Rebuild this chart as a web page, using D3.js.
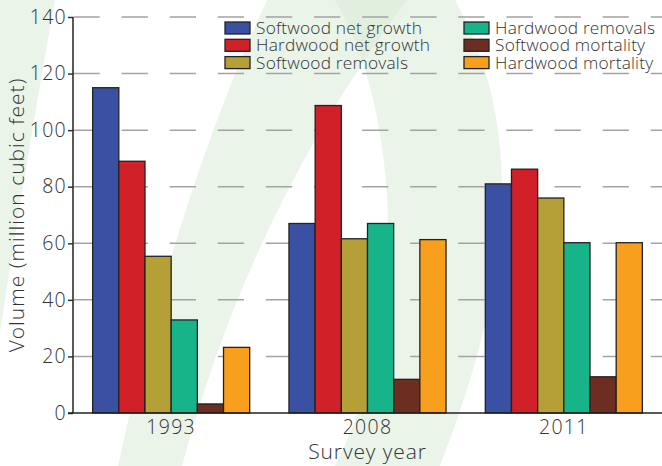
<!DOCTYPE html>
<html>
<head>
<meta charset="utf-8">
<script src="https://cdn.jsdelivr.net/npm/d3@7"></script>
<style>
  body { margin: 0; background: #fff; }
  svg text { font-family: "Open Sans", sans-serif; font-weight: 300; fill: #333; }
</style>
</head>
<body>
<div class="chart"></div>
<script>
// survey years on the x axis
var years = ['1993', '2008', '2011'];

// one array per series, values in million cubic feet
var seriesNames = ['Softwood net growth', 'Hardwood net growth', 'Softwood removals',
                   'Hardwood removals', 'Softwood mortality', 'Hardwood mortality'];
var softwoodNetGrowth = [115, 67, 81];
var hardwoodNetGrowth = [89, 108.7, 86.2];
var softwoodRemovals  = [55.4, 61.6, 76];
var hardwoodRemovals  = [32.9, 67, 60.2];
var softwoodMortality = [3.2, 11.9, 12.8];
var hardwoodMortality = [23.2, 61.3, 60.2];
var yTicks = [0, 20, 40, 60, 80, 100, 120, 140];

var colors = ['#3a51a3', '#d02128', '#b5a038', '#16b488', '#6b2e21', '#f8a01d'];

var seriesValues = [softwoodNetGrowth, hardwoodNetGrowth, softwoodRemovals,
                    hardwoodRemovals, softwoodMortality, hardwoodMortality];

var W = 662, H = 466;
var margin = { top: 17, right: 0, bottom: 53, left: 73 };

var svg = d3.select('.chart').append('svg')
  .attr('width', W)
  .attr('height', H);

// faint green leaf watermark behind everything
var wm = svg.append('g').attr('class', 'watermark');
wm.append('path')
  .attr('d', 'M0,0 L55,0 Q28,150 0,332 Z')
  .attr('fill', '#d5e9d3').attr('fill-opacity', 0.5);
wm.append('path')
  .attr('d', 'M267,0 Q175,200 118,466 L182,466 Q250,210 407,0 Z')
  .attr('fill', '#d5e9d3').attr('fill-opacity', 0.5);
wm.append('path')
  .attr('d', 'M335,0 C390,90 420,300 335,466 L440,466 C520,260 520,120 455,0 Z')
  .attr('fill', '#d5e9d3').attr('fill-opacity', 0.5);

var width = W - margin.left - margin.right;
var height = H - margin.top - margin.bottom;

var g = svg.append('g')
  .attr('transform', 'translate(' + margin.left + ',' + margin.top + ')');

var x0 = d3.scaleBand().domain(years).range([0, width])
  .paddingInner(0.2).paddingOuter(0.1);
var x1 = d3.scaleBand().domain(d3.range(seriesNames.length)).range([0, x0.bandwidth()]);
var y = d3.scaleLinear().domain([0, 140]).range([height, 0]);

// dashed grid
g.append('g')
  .selectAll('line')
  .data(yTicks.filter(function(d) { return d > 0; }))
  .enter().append('line')
    .attr('x1', 0.5)
    .attr('x2', width)
    .attr('y1', function(d) { return y(d); })
    .attr('y2', function(d) { return y(d); })
    .attr('stroke', '#a3a3a3')
    .attr('stroke-width', 1.5)
    .attr('stroke-dasharray', '26.3,21.8');

// bars
var groups = g.selectAll('.group')
    .data(years)
  .enter().append('g')
    .attr('class', 'group')
    .attr('transform', function(d) { return 'translate(' + x0(d) + ',0)'; });

groups.selectAll('rect')
    .data(function(d, i) {
      return seriesValues.map(function(vals, s) { return { s: s, v: vals[i] }; });
    })
  .enter().append('rect')
    .attr('x', function(d) { return x1(d.s); })
    .attr('width', x1.bandwidth())
    .attr('y', function(d) { return y(d.v); })
    .attr('height', function(d) { return height - y(d.v); })
    .attr('fill', function(d) { return colors[d.s]; })
    .attr('stroke', '#222')
    .attr('stroke-width', 1.3);

// y axis
var yAxis = g.append('g')
  .call(d3.axisLeft(y).tickValues(yTicks).tickSizeInner(5).tickSizeOuter(0).tickPadding(1));
yAxis.select('.domain').remove();
yAxis.selectAll('.tick line').attr('stroke', '#333').attr('stroke-width', 1.5);
yAxis.selectAll('text')
  .style('font-size', '19.5px')
  .style('letter-spacing', '1.3px')
  .attr('fill', '#333');

g.append('line')
  .attr('x1', 0).attr('x2', 0)
  .attr('y1', y(140)).attr('y2', height)
  .attr('stroke', '#222').attr('stroke-width', 1.5);

// x axis
var xAxis = g.append('g')
  .attr('transform', 'translate(0,' + height + ')')
  .call(d3.axisBottom(x0).tickSize(0).tickPadding(7));
xAxis.select('.domain').remove();
xAxis.selectAll('text')
  .style('font-size', '19.5px')
  .style('letter-spacing', '1.3px')
  .attr('fill', '#333');

g.append('line')
  .attr('x1', -5).attr('x2', width)
  .attr('y1', height).attr('y2', height)
  .attr('stroke', '#222').attr('stroke-width', 1.5);

// axis titles
svg.append('text')
  .attr('transform', 'translate(24,' + (margin.top + height / 2) + ') rotate(-90)')
  .attr('text-anchor', 'middle')
  .style('font-size', '21px')
  .style('letter-spacing', '1px')
  .text('Volume (million cubic feet)');

svg.append('text')
  .attr('x', margin.left + width / 2)
  .attr('y', 459)
  .attr('text-anchor', 'middle')
  .style('font-size', '21px')
  .style('letter-spacing', '0.9px')
  .text('Survey year');

// legend, two columns of three
var legend = svg.append('g')
  .selectAll('.legend-item')
    .data(seriesNames)
  .enter().append('g')
    .attr('class', 'legend-item')
    .attr('transform', function(d, i) {
      var col = Math.floor(i / 3), row = i % 3;
      return 'translate(' + (225 + col * 239) + ',' + (22 + row * 17.3) + ')';
    });

legend.append('rect')
  .attr('width', 25)
  .attr('height', 12)
  .attr('fill', function(d, i) { return colors[i]; })
  .attr('stroke', '#222')
  .attr('stroke-width', 1.3);

legend.append('text')
  .attr('x', 31)
  .attr('y', 12)
  .style('font-size', '17.3px')
  .style('letter-spacing', '0.2px')
  .text(function(d) { return d; });
</script>
</body>
</html>
